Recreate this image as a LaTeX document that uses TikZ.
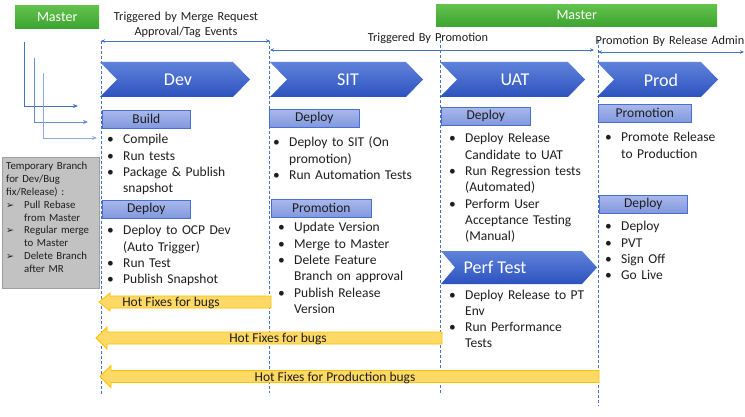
\documentclass[tikz,border=0pt]{standalone}
\usepackage{fontspec}
\setmainfont{Carlito}
\newfontfamily\djv{DejaVu Sans}
\usetikzlibrary{arrows.meta}
\definecolor{txt}{HTML}{1E1E1E}
\definecolor{lblue}{HTML}{4472C4}
\definecolor{chevtop}{HTML}{5F83DA}
\definecolor{chevbot}{HTML}{2D52BF}
\definecolor{hdrtop}{HTML}{A9B8EB}
\definecolor{hdrbot}{HTML}{8198DE}
\definecolor{hdrline}{HTML}{4A6FD0}
\definecolor{grtop}{HTML}{62C24C}
\definecolor{grbot}{HTML}{3DA531}
\definecolor{grayfill}{HTML}{C2C2C2}
\definecolor{grayline}{HTML}{A0A0A0}
\definecolor{hotfill}{HTML}{FFD966}
\definecolor{hotline}{HTML}{FFC000}
\definecolor{brA}{HTML}{4472C4}
\definecolor{brB}{HTML}{6A8CD4}
\definecolor{brC}{HTML}{8FAADC}
\newcommand\ftBody{\fontsize{13.5pt}{16.3pt}\selectfont}
\newcommand\ftChev{\fontsize{18pt}{20pt}\selectfont}
\newcommand\ftTop{\fontsize{12.3pt}{15pt}\selectfont}
\newcommand\ftSmall{\fontsize{10.8pt}{12.8pt}\selectfont}
\newcommand\ftMaster{\fontsize{14pt}{16pt}\selectfont}
\newcommand\bitem[1]{\noindent\hangindent=16pt\hangafter=1\makebox[16pt][l]{\textbullet}#1\par}
\newcommand\aitem[1]{\noindent\hangindent=18pt\hangafter=1\makebox[18pt][l]{\djv\fontsize{9.5pt}{9.5pt}\selectfont ➢}#1\par}
\begin{document}
\begin{tikzpicture}[x=1pt,y=-1pt,
  chevfill/.style={top color=chevtop,bottom color=chevbot},
  chevtxt/.style={text=white,font=\ftChev,inner sep=0},
  hdr/.style={draw=hdrline,line width=0.7pt,top color=hdrtop,bottom color=hdrbot,
    minimum height=18pt,inner sep=0,font=\ftBody,text=txt,anchor=north west},
  master/.style={top color=grtop,bottom color=grbot,text=white,font=\ftMaster,
    inner sep=0,anchor=north west},
  listnode/.style={inner sep=0,text width=170pt,font=\ftBody,text=txt,anchor=base west},
  toplbl/.style={inner sep=0,text width=190pt,align=center,font=\ftTop,text=txt,anchor=base},
  vdash/.style={draw=lblue,line width=0.6pt,dash pattern=on 3pt off 2pt},
  toparrow/.style={draw=lblue,line width=0.6pt,{Stealth[length=4pt,width=3.5pt]}-{Stealth[length=4pt,width=3.5pt]}},
  branch/.style={line width=0.8pt,-{Stealth[length=5pt,width=4pt]}},
  hotfix/.style={fill=hotfill,draw=hotline,line width=0.8pt},
  hottxt/.style={inner sep=0,font=\ftBody,text=txt},
]
\useasboundingbox (0,0) rectangle (745,417);

% dashed stage boundaries
\coordinate (d1t) at (101,41);  \coordinate (d1b) at (101,395);
\coordinate (d2t) at (269,41);  \coordinate (d2b) at (269,393);
\coordinate (d3t) at (440,35);  \coordinate (d3b) at (440,394);
\coordinate (d4t) at (598,40);  \coordinate (d4b) at (598,406);
\draw[vdash] (d1t) -- (d1b);
\draw[vdash] (d2t) -- (d2b);
\draw[vdash] (d3t) -- (d3b);
\draw[vdash] (d4t) -- (d4b);

% master boxes
\node[master,minimum width=84pt,minimum height=23pt] (m1) at (15,5) {Master};
\node[master,minimum width=281pt,minimum height=22pt] (m2) at (436,4) {Master};

% top labels
\node[toplbl] (lbl1) at (186,21) {Triggered by Merge Request\\Approval/Tag Events};
\node[toplbl] (lbl2) at (428,42) {Triggered By Promotion};
\node[toplbl] (lbl3) at (670,45) {Promotion By Release Admin};

% top arrows
\coordinate (a1l) at (101,41); \coordinate (a1r) at (270,41);
\coordinate (a2l) at (270,50); \coordinate (a2r) at (594,50);
\coordinate (a3l) at (598,52); \coordinate (a3r) at (744,52);
\draw[toparrow] (a1l) -- (a1r);
\draw[toparrow] (a2l) -- (a2r);
\draw[toparrow] (a3l) -- (a3r);

% branch lines
\coordinate (b1s) at (24,42); \coordinate (b1e) at (78,106);
\coordinate (b2s) at (34,58); \coordinate (b2e) at (88,122);
\coordinate (b3s) at (43,73); \coordinate (b3e) at (97,138);
\draw[branch,brA] (b1s) |- (b1e);
\draw[branch,brB] (b2s) |- (b2e);
\draw[branch,brC] (b3s) |- (b3e);

% chevrons
\newcommand\chev[7]{%
  \shade[chevfill] (#1,#3) -- ({#2-#5},#3) -- (#2,{(#3+#4)/2}) -- ({#2-#5},#4)
    -- (#1,#4) -- ({#1+#6},{(#3+#4)/2}) -- cycle;
  #7}
\chev{100}{250}{62}{97}{17}{17}{\node[chevtxt] (dev) at (178,80) {Dev};}
\chev{270}{423}{62}{97}{17}{17}{\node[chevtxt] (sit) at (348,80) {SIT};}
\chev{440}{585}{62}{97}{17}{17}{\node[chevtxt] (uat) at (515,80) {UAT};}
\chev{597}{718}{62}{97}{17}{17}{\node[chevtxt] (prod) at (661,80) {Prod};}
\chev{441}{597}{251}{284}{15}{14}{\node[chevtxt] (perf) at (495,267) {Perf Test};}

% header boxes
\node[hdr,minimum width=88pt] (build) at (102,110) {Build};
\node[hdr,minimum width=88pt] (devdep) at (102,200) {Deploy};
\node[hdr,minimum width=90pt] (sitdep) at (269,109) {Deploy};
\node[hdr,minimum width=100pt] (sitpro) at (271,199) {Promotion};
\node[hdr,minimum width=89pt] (uatdep) at (441,107) {Deploy};
\node[hdr,minimum width=93pt] (prodpro) at (598,104) {Promotion};
\node[hdr,minimum width=88pt] (proddep) at (599,195) {Deploy};

% lists
\node[listnode] (l1) at (107,144) {\bitem{Compile}\bitem{Run tests}\bitem{Package \& Publish\newline snapshot}};
\node[listnode] (l2) at (107,235) {\bitem{Deploy to OCP Dev\newline (Auto Trigger)}\bitem{Run Test}\bitem{Publish Snapshot}};
\node[listnode] (l3) at (273,147) {\bitem{Deploy to SIT (On\newline promotion)}\bitem{Run Automation Tests}};
\node[listnode] (l4) at (278,232) {\bitem{Update Version}\bitem{Merge to Master}\bitem{Delete Feature\newline Branch on approval}\bitem{Publish Release\newline Version}};
\node[listnode] (l5) at (449,143) {\bitem{Deploy Release\newline Candidate to UAT}\bitem{Run Regression tests\newline (Automated)}\bitem{Perform User\newline Acceptance Testing\newline (Manual)}};
\node[listnode] (l6) at (449,299) {\bitem{Deploy Release to PT\newline Env}\bitem{Run Performance\newline Tests}};
\node[listnode] (l7) at (605,142) {\bitem{Promote Release\newline to Production}};
\node[listnode] (l8) at (605,231) {\bitem{Deploy}\bitem{PVT}\bitem{Sign Off}\bitem{Go Live}};

% temporary branch box
\node[draw=grayline,fill=grayfill,line width=0.7pt,minimum width=97pt,minimum height=131pt,
  inner sep=0,anchor=north west] (tmpbox) at (2,157) {};
\node[inner sep=0,text width=92pt,font=\ftSmall,text=txt,anchor=base west] (tmptxt) at (6,170)
  {Temporary Branch\newline for Dev/Bug\newline fix/Release) :\par\aitem{Pull Rebase\newline from Master}\aitem{Regular merge\newline to Master}\aitem{Delete Branch\newline after MR}};

% hot fix arrows
\newcommand\hotarrow[4]{%
  \path[hotfix] (#1,#3) -- ({#1+11},{#3-#4}) -- ({#1+11},{#3-6}) -- (#2,{#3-6})
    -- (#2,{#3+6}) -- ({#1+11},{#3+6}) -- ({#1+11},{#3+#4}) -- cycle;}
\hotarrow{99}{271}{302}{9}
\hotarrow{96}{442}{338}{11}
\hotarrow{100}{599}{376.5}{11}
\node[hottxt] (h1) at (171,303) {Hot Fixes for bugs};
\node[hottxt] (h2) at (278,339) {Hot Fixes for bugs};
\node[hottxt] (h3) at (335,377.5) {Hot Fixes for Production bugs};
\end{tikzpicture}
\end{document}
